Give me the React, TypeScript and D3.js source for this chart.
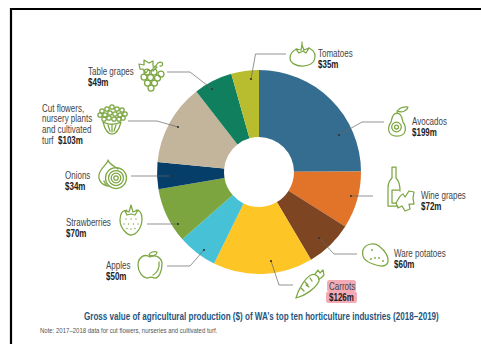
import React from "react";
import * as d3 from "d3";

const width = 481;
const height = 344;

const industries = ["Avocados", "Wine grapes", "Ware potatoes", "Carrots", "Apples", "Strawberries", "Onions", "Cut flowers", "Table grapes", "Tomatoes"];
const values = [199, 72, 60, 126, 50, 70, 34, 103, 49, 35];
const colours = ["#346d8f", "#e2742a", "#7e4522", "#fdc526", "#47c1d5", "#7da53f", "#053e68", "#c2b59c", "#107f5e", "#b8bc2f"];

const labelLines = [
  ["Avocados"], ["Wine grapes"], ["Ware potatoes"], ["Carrots"], ["Apples"], ["Strawberries"], ["Onions"],
  ["Cut flowers,", "nursery plants", "and cultivated"], ["Table grapes"], ["Tomatoes"],
];
const labelX = [412, 421, 394, 329, 106, 66, 65, 42, 88, 318];
const labelY = [124.5, 198.5, 256.5, 289.5, 268.5, 225.5, 178.5, 111.5, 75, 56.5];

// Leader lines: start dot on the slice, then the elbow points toward the icon.
const leaders: [number, number][][] = [
  [[339, 135], [362, 122], [384, 122]],
  [[351, 196], [373, 196]],
  [[319, 238], [334, 254], [357, 254]],
  [[271, 261], [279, 285], [293, 285]],
  [[204, 250], [190, 266], [167, 266]],
  [[178, 224], [147, 224]],
  [[170, 176], [131, 176]],
  [[178, 127], [157, 121], [128, 121]],
  [[212, 89], [190, 72], [167, 72]],
  [[251, 79], [255.5, 54], [286, 54]],
];

const titleText = "Gross value of agricultural production ($) of WA’s top ten horticulture industries (2018–2019)";
const noteText = "Note: 2017–2018 data for cut flowers, nurseries and cultivated turf.";

const font = "'Liberation Sans', Arial, sans-serif";
const iconGreen = "#7ba640";
const condense = 0.8;

const TableGrapes = () => {
  const berries: [number, number][] = [[147, 72], [154, 72], [161, 74], [150.5, 77.5], [144, 77], [157.5, 78], [147.5, 83], [154.5, 83], [151, 88]];
  return (
    <g>
      <path d="M139 64 L144 65 L144 60 L149 63 L153 61 L153 66 L157 67 L153 71 L148 70 L146 73 L143 69 L140 69 Z" />
      <path d="M153 68 C158 66 156 62 160 62 C164 62 163 67 160 66" />
      {berries.map(([x, y], i) => <circle key={i} cx={x} cy={y} r={3} />)}
    </g>
  );
};

const Flowers = () => {
  const buds: [number, number][] = [[102, 111], [107, 109], [112, 107], [117, 109], [122, 110], [125, 114], [100, 115], [105, 115], [110, 113], [115, 114], [120, 115], [104, 119], [109, 118], [114, 119], [119, 119], [123, 118]];
  return (
    <g>
      {buds.map(([x, y], i) => <circle key={i} cx={x} cy={y} r={2.2} />)}
      <path d="M103 122 C105 130 108 134 112 134 C116 134 119 130 121 122 C116 125 108 125 103 122 Z" />
      <path d="M108 125 L110 131 M112 124 L112 132 M116 125 L114 131" />
    </g>
  );
};

const Onion = () => (
  <g>
    <path d="M108 160 C108 164 100 168 99 175 C98 181 103 186 109 186 M108 160 C109 164 114 166 118 169" />
    <circle cx={116} cy={178} r={10.5} />
    <circle cx={116} cy={178} r={7.5} />
    <circle cx={116} cy={178} r={4.8} />
    <circle cx={116} cy={178} r={2.2} />
    <path d="M106 185 L104 181" />
  </g>
);

const Strawberry = () => (
  <g>
    <path d="M127 210 C121 210 120 216 120 220 C120 228 127 235 131 235 C136 235 142 228 142 219 C142 214 140 210 136 210" />
    <path d="M125 211 L129 212 L131 205 L133 212 L138 210 L135 215 L131 214 L127 215 Z" />
    {[[126, 219], [131, 219], [136, 219], [128.5, 224], [133.5, 224], [124, 224], [138, 224], [131, 229], [127, 228.5], [135, 228.5]].map(([x, y], i) => (
      <circle key={i} cx={x} cy={y} r={0.7} fill={iconGreen} stroke="none" />
    ))}
  </g>
);

const Apple = () => (
  <g>
    <path d="M150 257 C144 253 138 258 138 265 C138 272 143 278 147 278 C149 278 150 277 151 277 C152 277 153 278 155 278 C159 278 162 271 162 264 C162 258 156 254 150 257 Z" />
    <path d="M159 262 C160 268 157 273 153 275" />
    <path d="M149 255 C150 252 154 251 157 252 C157 255 153 257 149 255 Z" />
  </g>
);

const Avocado = () => (
  <g>
    <path d="M397 113 C392 113 392 119 391 122 C388 126 386 136 397 136 C408 136 406 126 403 122 C402 119 402 113 397 113 Z" />
    <circle cx={396.5} cy={127} r={4.8} />
    <circle cx={396.5} cy={127} r={2} />
    <path d="M397 113 C397 110 401 106 408 107 C407 111 402 113 397 111" />
  </g>
);

const WineAndLeaf = () => (
  <g>
    <path d="M392 167 L392 178 C389 181 388 184 388 188 L388 206 L398 206 M396 167 L396 178 C399 181 400 184 400 191 M392 167 L396 167" />
    <path d="M392 190 L399 190 M392 190 L392 203 L396 203" />
    <path d="M396 203 C399 198 400 195 403 194 L405 197 L409 191 L414 192 L413 198 L414 204 L409 204 L410 209 L405 211 L402 206 L398 208 Z" />
  </g>
);

const Potato = () => (
  <g>
    <path d="M363 250 C365 244 374 242 379 246 C384 250 389 256 388 262 C386 268 378 266 373 264 C367 262 361 258 363 250 Z" />
    {[[372, 250], [379, 258], [375, 258], [371, 259], [383, 261]].map(([x, y], i) => (
      <circle key={i} cx={x} cy={y} r={0.9} fill={iconGreen} stroke="none" />
    ))}
  </g>
);

const Carrot = () => (
  <g>
    <path d="M296 298 C298 290 305 278 311 275 C315 273 320 277 319 281 C316 288 305 296 296 298 Z" />
    <path d="M305 282 L308 285 M301 288 L304 291 M310 278 L312 281 M309 287 L306 285" />
    <path d="M315 274 L318 270 L320 273 L323 270 L324 275 L321 278 L319 279" />
  </g>
);

const Tomato = () => (
  <g>
    <path d="M297 49 C292 51 290 55 290 58 C290 63 296 66 302 66 C309 66 315 63 315 56 C315 52 313 50 309 48" />
    <path d="M296 49 L301 50 L302 45 L304 50 L309 48 L306 53 L303 51 L299 53 Z" />
    <path d="M302 45 L302 42" />
  </g>
);

const App = () => {
  const cx = 259;
  const cy = 172;
  const pie = d3.pie<number>().sort(null).value((d) => d);
  const arc = d3.arc<d3.PieArcDatum<number>>().innerRadius(35).outerRadius(102);
  const slices = pie(values);
  const line = d3.line();

  return (
    <svg width={width} height={height} viewBox={`0 0 ${width} ${height}`} style={{ position: "absolute", left: 0, top: 0, background: "#fff" }}>
      <path d={`M11 ${height} V9 H${width}`} fill="none" stroke="#000" strokeWidth={2.2} />

      <g transform={`translate(${cx},${cy})`}>
        {slices.map((s, i) => <path key={industries[i]} d={arc(s) ?? ""} fill={colours[i]} />)}
      </g>

      {leaders.map((pts, i) => (
        <g key={i}>
          <path d={line(pts) ?? ""} fill="none" stroke="#666" strokeWidth={0.7} />
          <circle cx={pts[0][0]} cy={pts[0][1]} r={1.1} fill="#333" />
        </g>
      ))}

      <g fill="none" stroke={iconGreen} strokeWidth={1.25} strokeLinejoin="round" strokeLinecap="round">
        <TableGrapes />
        <Flowers />
        <Onion />
        <Strawberry />
        <Apple />
        <Avocado />
        <WineAndLeaf />
        <Potato />
        <Carrot />
        <Tomato />
      </g>

      <rect x={327} y={280} width={29} height={12} rx={2.5} fill="#f5aab6" />
      <rect x={326} y={291.5} width={31} height={11.5} rx={2.5} fill="#f5aab6" />

      <g fontFamily={font} fontSize={10}>
        {labelLines.map((rows, i) => {
          const y = labelY[i];
          const isStacked = rows.length > 1;
          return (
            <text key={industries[i]} transform={`translate(${labelX[i]},${y}) scale(${condense},1)`} fill="#444">
              {rows.map((r, j) => <tspan key={j} x={0} y={j * 11}>{r}</tspan>)}
              {isStacked ? (
                <tspan x={0} y={rows.length * 11}>
                  turf{"\u00a0\u00a0"}<tspan fontWeight={700} fill="#222">{`$${values[i]}m`}</tspan>
                </tspan>
              ) : (
                <tspan x={0} y={11.5} fontWeight={700} fill="#222">{`$${values[i]}m`}</tspan>
              )}
            </text>
          );
        })}
      </g>

      <text transform="translate(84,319.5) scale(0.808,1)" fontFamily={font} fontSize={10} fontWeight={700} fill="#1f5680">{titleText}</text>
      <text transform="translate(40,332.5) scale(0.885,1)" fontFamily={font} fontSize={6.8} fill="#555">{noteText}</text>
    </svg>
  );
};

export default App;
